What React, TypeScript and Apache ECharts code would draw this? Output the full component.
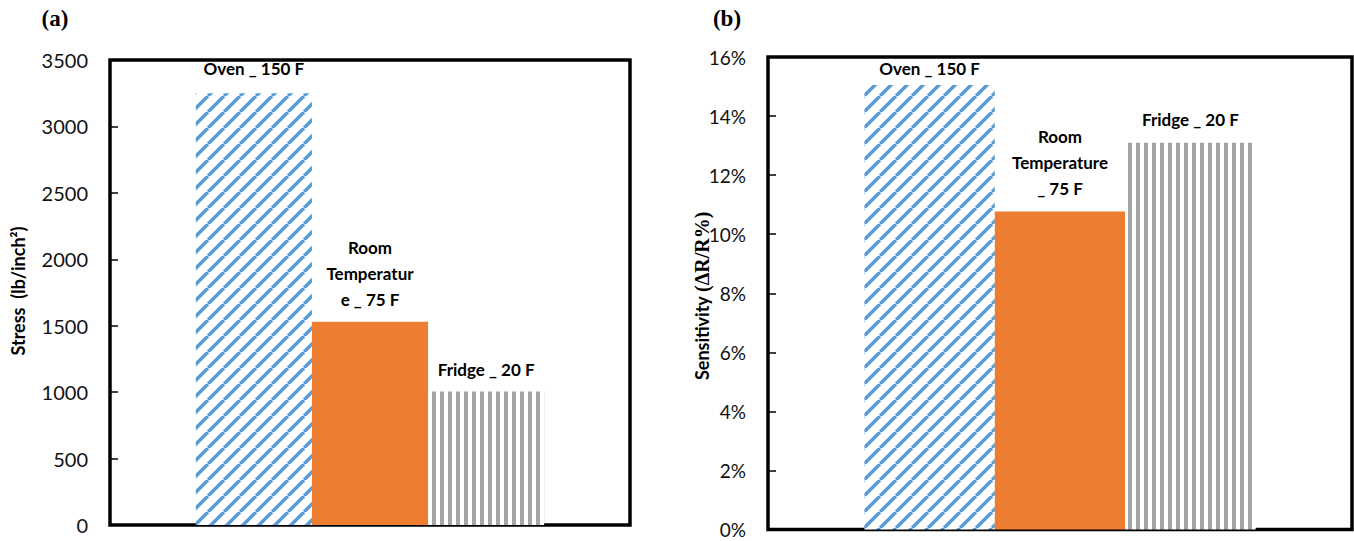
import React, { useEffect, useRef } from "react";
import * as echarts from "echarts";

const categories = [""];
const seriesNames = ["Oven _ 150 F", "Room Temperature _ 75 F", "Fridge _ 20 F"];
const stressValues = [3250, 1530, 1005];
const sensitivityValues = [0.1505, 0.1077, 0.131];
const labelsA = ["Oven _ 150 F", "Room\nTemperatur\ne _ 75 F", "Fridge _ 20 F"];
const labelsB = ["Oven _ 150 F", "Room\nTemperature\n_ 75 F", "Fridge _ 20 F"];
const stressAxis = { min: 0, max: 3500, interval: 500 };
const sensAxis = { min: 0, max: 0.16, interval: 0.02 };
const panelTitles = ["(a)", "(b)"];
const yTitleA = "Stress  (lb/inch²)";
const yTitleB = ["Sensitivity ", "(ΔR/R%)"];

const FONT = "Lato, 'Noto Sans', sans-serif";

function makeDiagonal(): HTMLCanvasElement {
  const c = document.createElement("canvas");
  const s = 16;
  c.width = s;
  c.height = s;
  const ctx = c.getContext("2d")!;
  ctx.fillStyle = "#ffffff";
  ctx.fillRect(0, 0, s, s);
  ctx.strokeStyle = "#5B9BD5";
  ctx.lineWidth = 3.5;
  for (const k of [-s, 0, s]) {
    ctx.beginPath();
    ctx.moveTo(k, s);
    ctx.lineTo(k + s, 0);
    ctx.stroke();
  }
  return c;
}

function makeVertical(): HTMLCanvasElement {
  const c = document.createElement("canvas");
  c.width = 8;
  c.height = 8;
  const ctx = c.getContext("2d")!;
  ctx.fillStyle = "#ffffff";
  ctx.fillRect(0, 0, 8, 8);
  ctx.fillStyle = "#A5A5A5";
  ctx.fillRect(0, 0, 4, 8);
  return c;
}

export default function App() {
  const ref = useRef<HTMLDivElement>(null);
  useEffect(() => {
    if (!ref.current) return;
    const chart = echarts.init(ref.current, null, { renderer: "svg" });
    const diag = makeDiagonal();
    const vert = makeVertical();
    const fills: any[] = [
      { image: diag, repeat: "repeat" },
      "#ED7D31",
      { image: vert, repeat: "repeat" },
    ];
    const labelBase = {
      show: true,
      position: "top",
      fontFamily: FONT,
      fontWeight: "bold",
      fontSize: 17,
      lineHeight: 26,
      color: "#000",
    };
    const yAxisCommon = {
      type: "value",
      splitLine: { show: false },
      axisLine: { show: false },
      axisTick: { show: true, inside: true, length: 8, lineStyle: { color: "#000", width: 1.5 } },
      axisLabel: { fontFamily: FONT, fontSize: 20, lineHeight: 18, color: "#111", margin: 22 },
    };
    const seriesA = seriesNames.map((name, i) => ({
      name,
      type: "bar",
      xAxisIndex: 0,
      yAxisIndex: 0,
      barGap: "0%",
      barCategoryGap: "33%",
      data: [stressValues[i]],
      itemStyle: { color: fills[i] },
      label: { ...labelBase, distance: i === 0 ? 12 : 9, formatter: labelsA[i] },
    }));
    const seriesB = seriesNames.map((name, i) => ({
      name,
      type: "bar",
      xAxisIndex: 1,
      yAxisIndex: 1,
      barGap: "0%",
      barCategoryGap: "33%",
      data: [sensitivityValues[i]],
      itemStyle: { color: fills[i] },
      label: { ...labelBase, distance: i === 0 ? 4 : 10, formatter: labelsB[i] },
    }));
    chart.setOption({
      animation: false,
      grid: [
        { left: 110, top: 60, width: 520, height: 465, show: true, borderColor: "#000", borderWidth: 3.5, backgroundColor: "transparent" },
        { left: 768, top: 57, width: 584, height: 474, show: true, borderColor: "#000", borderWidth: 3.5, backgroundColor: "transparent" },
      ],
      xAxis: [
        { type: "category", gridIndex: 0, data: categories, show: false },
        { type: "category", gridIndex: 1, data: categories, show: false },
      ],
      yAxis: [
        {
          ...yAxisCommon,
          gridIndex: 0,
          ...stressAxis,
          axisLabel: { ...yAxisCommon.axisLabel, formatter: (v: number) => String(v) },
        },
        {
          ...yAxisCommon,
          gridIndex: 1,
          ...sensAxis,
          axisLabel: {
            ...yAxisCommon.axisLabel,
            fontSize: 19,
            padding: [0, 0, 5, 0],
            formatter: (v: number) => Math.round(v * 100) + "%",
          },
        },
      ],
      series: [...seriesA, ...seriesB],
      graphic: [
        {
          type: "text",
          x: 55,
          y: 18,
          style: { text: panelTitles[0], font: "bold 23px 'Liberation Serif', serif", fill: "#000", align: "center", verticalAlign: "middle" },
        },
        {
          type: "text",
          x: 727,
          y: 18,
          style: { text: panelTitles[1], font: "bold 23px 'Liberation Serif', serif", fill: "#000", align: "center", verticalAlign: "middle" },
        },
        {
          type: "text",
          x: 18,
          y: 291,
          rotation: Math.PI / 2,
          style: { text: yTitleA, font: `bold 18px ${FONT}`, fill: "#000", align: "center", verticalAlign: "middle" },
        },
        {
          type: "text",
          x: 702,
          y: 296,
          rotation: Math.PI / 2,
          style: {
            text: `{a|${yTitleB[0]}}{b|${yTitleB[1]}}`,
            align: "center",
            verticalAlign: "middle",
            rich: {
              a: { fontFamily: FONT, fontWeight: "bold", fontSize: 18, fill: "#000", color: "#000" },
              b: { fontFamily: "'Liberation Serif', serif", fontWeight: "bold", fontSize: 20, fill: "#000", color: "#000" },
            },
          },
        },
      ],
    });
    return () => chart.dispose();
  }, []);
  return (
    <div
      ref={ref}
      style={{ position: "fixed", left: 0, top: 0, width: 1354, height: 541, background: "#fff" }}
    />
  );
}
